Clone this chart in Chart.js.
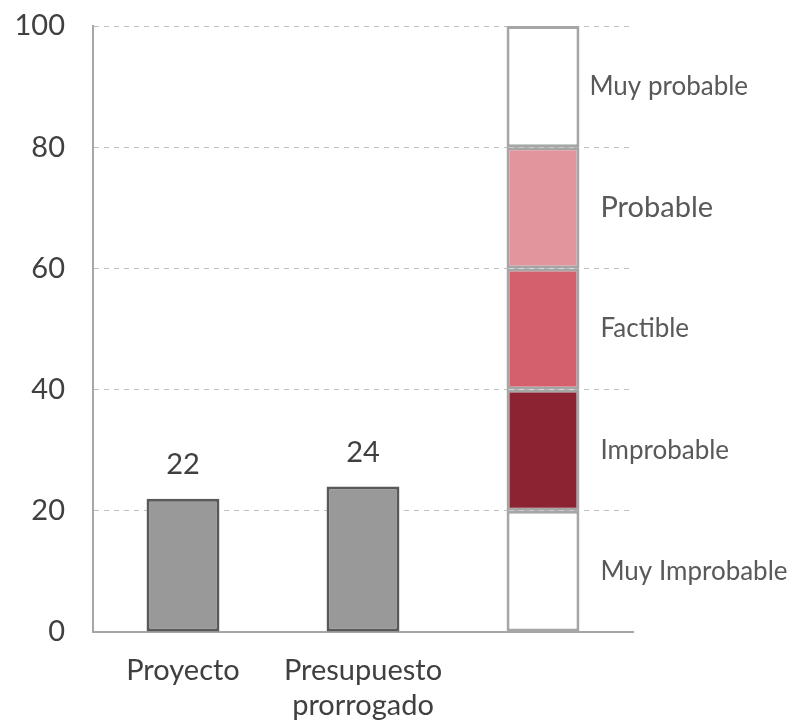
<!DOCTYPE html>
<html>
<head>
<meta charset="utf-8">
<script src="https://cdn.jsdelivr.net/npm/chart.js@4"></script>
<style>
  body { margin: 0; background: #fff; }
  #wrap { width: 797px; height: 725px; position: relative; }
</style>
</head>
<body>
<div id="wrap"><canvas id="chart"></canvas></div>
<script>
// Datos del gráfico
const categorias = ["Proyecto", ["Presupuesto", "prorrogado"], ""];
const valores = [22, 24, null];

// Bandas de probabilidad (de abajo hacia arriba)
const bandas = ["Muy Improbable", "Improbable", "Factible", "Probable", "Muy probable"];
const bandaValores = [20, 20, 20, 20, 20];
const bandaColores = ["#ffffff", "#8b2332", "#d4606e", "#e3959e", "#ffffff"];

const yTicks = [0, 20, 40, 60, 80, 100];

const FONT = "Lato, 'Open Sans', sans-serif";

// Etiquetas de valor sobre las barras grises
const valueLabels = {
    id: "valueLabels",
    afterDatasetsDraw(chart) {
        const ctx = chart.ctx;
        const meta = chart.getDatasetMeta(0);
        ctx.save();
        ctx.font = "29px " + FONT;
        ctx.fillStyle = "#404040";
        ctx.textAlign = "center";
        ctx.textBaseline = "alphabetic";
        meta.data.forEach((bar, i) => {
            if (valores[i] == null) return;
            ctx.fillText(String(valores[i]), bar.x, bar.y - 25);
        });
        ctx.restore();
    }
};

// Nombres de las bandas a la derecha de la barra apilada
const bandLabels = {
    id: "bandLabels",
    afterDatasetsDraw(chart) {
        const ctx = chart.ctx;
        const y = chart.scales.y;
        ctx.save();
        ctx.fillStyle = "#595959";
        ctx.textAlign = "left";
        ctx.textBaseline = "middle";
        let base = 0;
        bandas.forEach((name, i) => {
            const meta = chart.getDatasetMeta(i + 1);
            const bar = meta.data[2];
            const mid = base + bandaValores[i] / 2;
            base += bandaValores[i];
            ctx.font = (name === "Probable" ? "29px " : "26px ") + FONT;
            const off = name === "Muy probable" ? 10 : 21;
            ctx.fillText(name, bar.x + bar.width / 2 + off, y.getPixelForValue(mid));
        });
        ctx.restore();
    }
};

const datasets = [{
    label: "Valor",
    data: valores,
    backgroundColor: "#999999",
    borderColor: "#595959",
    borderWidth: 3,
    borderSkipped: false
}];

bandas.forEach((name, i) => {
    datasets.push({
        label: name,
        data: [null, null, bandaValores[i]],
        backgroundColor: bandaColores[i],
        borderColor: "#a6a6a6",
        borderWidth: 3,
        borderSkipped: false
    });
});

new Chart(document.getElementById("chart").getContext("2d"), {
    type: "bar",
    data: { labels: categorias, datasets: datasets },
    plugins: [valueLabels, bandLabels],
    options: {
        responsive: true,
        maintainAspectRatio: false,
        animation: false,
        layout: { padding: { top: 26, right: 164, left: 0, bottom: 0 } },
        plugins: {
            legend: { display: false },
            tooltip: { enabled: false }
        },
        datasets: {
            bar: { barPercentage: 0.405, categoryPercentage: 1 }
        },
        scales: {
            x: {
                stacked: true,
                grid: { display: false },
                border: { display: true, color: "#a6a6a6", width: 2 },
                ticks: {
                    color: "#404040",
                    font: { family: FONT, size: 29, lineHeight: 1.2 },
                    padding: 13,
                    maxRotation: 0
                },
                afterFit(scale) {
                    scale.height = 93;
                    scale.paddingLeft = 0;
                    scale.paddingRight = 0;
                }
            },
            y: {
                stacked: true,
                min: 0,
                max: 100,
                afterBuildTicks(scale) { scale.ticks = yTicks.map(v => ({ value: v })); },
                grid: { color: "#bfbfbf", lineWidth: 1, drawTicks: false },
                border: { display: true, color: "#a6a6a6", width: 2, dash: [5, 5] },
                ticks: {
                    color: "#404040",
                    font: { family: FONT, size: 29 },
                    padding: 28
                },
                afterFit(scale) {
                    scale.width = 93;
                    scale.paddingTop = 0;
                    scale.paddingBottom = 0;
                }
            }
        }
    }
});
</script>
</body>
</html>
